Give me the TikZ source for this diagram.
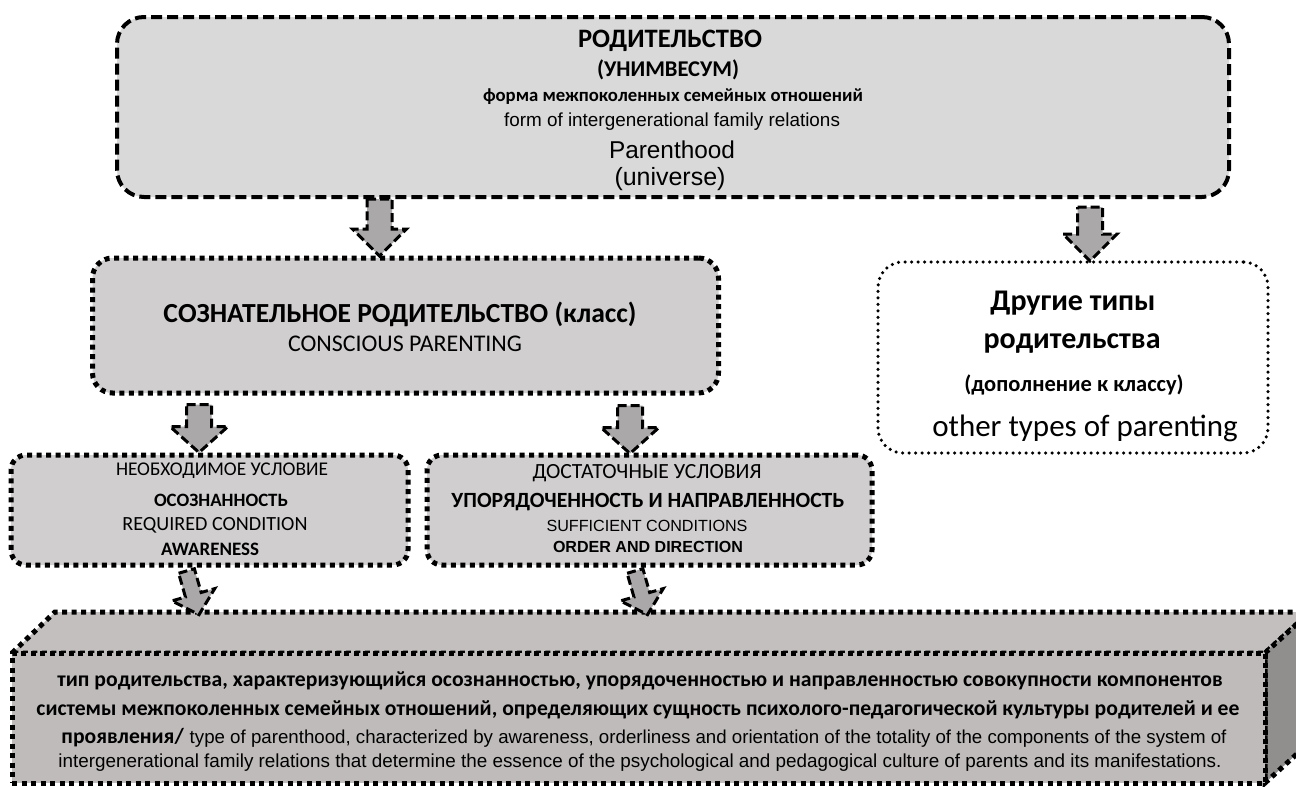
\documentclass[tikz,border=0pt]{standalone}
\usepackage{fontspec}
\usepackage{graphicx}
\usetikzlibrary{calc}
\newfontfamily\calfont{Carlito}
\newfontfamily\arfont{Liberation Sans}
\newcommand\fitw[2]{\resizebox{#1pt}{!}{\fontsize{20}{24}\selectfont #2}}
\definecolor{topfill}{RGB}{217,217,217}
\definecolor{boxfill}{RGB}{208,206,206}
\definecolor{arrfill}{RGB}{170,168,168}
\definecolor{frontfill}{RGB}{191,187,187}
\definecolor{topface}{RGB}{195,191,191}
\definecolor{sideface}{RGB}{145,142,142}
\tikzset{
  sqdots/.style={line width=5pt, dash pattern=on 5pt off 4.5pt},
  rddots/.style={line width=3.5pt, dash pattern=on 0pt off 6.5pt, line cap=round},
  dashbox/.style={draw, line width=4pt, dash pattern=on 11pt off 5pt, rounded corners=27pt, fill=topfill, inner sep=0pt},
  dotbox/.style={draw, sqdots, fill=boxfill, inner sep=0pt},
  otherbox/.style={draw, rddots, fill=white, rounded corners=25pt, inner sep=0pt},
  frontbox/.style={draw, sqdots, fill=frontfill, inner sep=0pt},
  arrowsty/.style={fill=arrfill, draw=black, line width=3pt, dash pattern=on 9pt off 4pt, line join=miter},
  txt/.style={inner sep=0pt},
  bigtxt/.style={inner sep=0pt, font=\calfont\fontsize{31}{37}\selectfont},
  bigbold/.style={inner sep=0pt, font=\calfont\bfseries\fontsize{30}{36}\selectfont},
  pics/barrow/.style n args={4}{code={
    \path[arrowsty] (-#1,0) -- (#1,0) -- (#1,#2) -- (#3,#2) -- (0,{#2+#4}) -- (-#3,#2) -- (-#1,#2) -- cycle;
  }}
}
\begin{document}
\begin{tikzpicture}[x=1pt,y=-1pt]
\useasboundingbox (0,0) rectangle (1296,787);
\clip (0,0) rectangle (1296,787);
\fill[white] (0,0) rectangle (1296,787);

% boxes
\node[dashbox, minimum width=1112pt, minimum height=180pt] (top) at (673,107) {};
\node[dotbox, rounded corners=20pt, minimum width=626pt, minimum height=135pt] (mid) at (405.5,325.5) {};
\node[otherbox, minimum width=390pt, minimum height=191pt] (other) at (1073,357.5) {};
\node[dotbox, rounded corners=15pt, minimum width=397pt, minimum height=110pt] (cond1) at (209.5,510) {};
\node[dotbox, rounded corners=15pt, minimum width=445pt, minimum height=110pt] (cond2) at (649.5,510) {};

% 3D bottom block
\coordinate (fnw) at (12,653);
\coordinate (fne) at (1265,653);
\coordinate (fse) at (1265,783);
\path[fill=topface, draw, sqdots] (fnw) -- ++(43,-41) -- ($(fne)+(45,-41)$) -- (fne) -- cycle;
\path[fill=sideface, draw, sqdots] (fne) -- ++(45,-41) -- ($(fse)+(45,-41)$) -- (fse) -- cycle;
\node[frontbox, minimum width=1253pt, minimum height=130pt] (front) at (638.5,718) {};

% block arrows (connectors)
\coordinate (a1) at ($(top.south -| mid.north)+(-26,0)$);
\coordinate (a2) at ($(top.south -| other.north)+(17,8)$);
\coordinate (a3) at ($(mid.south -| cond1.north)+(-10.5,9)$);
\coordinate (a4) at ($(mid.south -| cond2.north)+(-19.5,10)$);
\coordinate (a5) at ($(cond1.south)+(-23,3.5)$);
\coordinate (a6) at ($(cond2.south)+(-14.5,3.5)$);
\pic at (a1) {barrow={12.5}{30}{27}{27}};
\pic at (a2) {barrow={12.5}{27}{27}{27}};
\pic at (a3) {barrow={12.5}{22}{29}{26}};
\pic at (a4) {barrow={12.5}{22}{29}{26}};
\pic[rotate=16] at (a5) {barrow={8.2}{24.7}{22.3}{20.7}};
\pic[rotate=16] at (a6) {barrow={8.2}{24.7}{22.3}{20.7}};

% top texts
\node[txt] (t1) at (670,41) {\fitw{184}{\calfont\bfseries РОДИТЕЛЬСТВО}};
\node[txt] (t2) at (668,70) {\fitw{142}{\calfont\bfseries (УНИМВЕСУМ)}};
\node[txt] (t3) at (673,97) {\fitw{380}{\calfont\bfseries форма межпоколенных семейных отношений}};
\node[txt] (t4) at (672,122) {\fitw{336}{\arfont form of intergenerational family relations}};
\node[txt] (t5) at (672,150) {\fitw{126}{\arfont Parenthood}};
\node[txt] (t6) at (670,179) {\fitw{111}{\arfont (universe)}};

% middle
\node[txt] (m1) at (400,314) {\fitw{473}{\calfont\bfseries СОЗНАТЕЛЬНОЕ РОДИТЕЛЬСТВО (класс)}};
\node[txt] (m2) at (405,344) {\fitw{234}{\calfont CONSCIOUS PARENTING}};

% other
\node[bigbold] (r1) at (1073,303) {Другие типы};
\node[bigbold] (r2) at (1072,344) {родительства};
\node[txt, font=\calfont\bfseries\fontsize{22.5}{27}\selectfont] (r3) at (1074,385) {(дополнение к классу)};
\node[bigtxt] (r4) at (1085,428) {other types of parenting};

% cond1
\node[txt] (c1) at (222,471) {\fitw{212}{\calfont НЕОБХОДИМОЕ УСЛОВИЕ}};
\node[txt] (c2) at (221,500) {\fitw{134}{\calfont\bfseries ОСОЗНАННОСТЬ}};
\node[txt] (c3) at (215,525) {\fitw{185}{\calfont REQUIRED CONDITION}};
\node[txt] (c4) at (210,549) {\fitw{98}{\calfont\bfseries AWARENESS}};

% cond2
\node[txt] (d1) at (647,473) {\fitw{229}{\calfont ДОСТАТОЧНЫЕ УСЛОВИЯ}};
\node[txt] (d2) at (648,502) {\fitw{393}{\calfont\bfseries УПОРЯДОЧЕННОСТЬ И НАПРАВЛЕННОСТЬ}};
\node[txt] (d3) at (647,526) {\fitw{201}{\arfont SUFFICIENT CONDITIONS}};
\node[txt] (d4) at (648,547) {\fitw{190}{\arfont\bfseries ORDER AND DIRECTION}};

% bottom
\node[txt] (b1) at (640,681) {\fitw{1165}{\calfont\bfseries тип родительства, характеризующийся осознанностью, упорядоченностью и направленностью совокупности компонентов}};
\node[txt] (b2) at (638,710) {\fitw{1203}{\calfont\bfseries системы межпоколенных семейных отношений, определяющих сущность психолого-педагогической культуры родителей и ее}};
\node[txt] (b3) at (644,738) {\fitw{1165}{{\calfont\bfseries\fontsize{22}{26}\selectfont проявления/} {\arfont\fontsize{19}{23}\selectfont type of parenthood, characterized by awareness, orderliness and orientation of the totality of the components of the system of}}};
\node[txt] (b4) at (640,763) {\fitw{1163}{\arfont intergenerational family relations that determine the essence of the psychological and pedagogical culture of parents and its manifestations.}};
\end{tikzpicture}
\end{document}
